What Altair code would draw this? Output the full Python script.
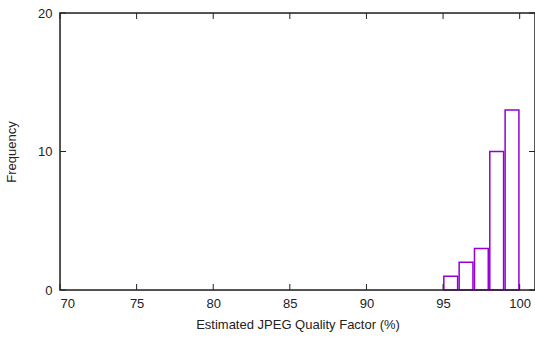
import altair as alt
import pandas as pd

bin_start = [95, 96, 97, 98, 99]
counts = [1, 2, 3, 10, 13]
x_ticks = [70, 75, 80, 85, 90, 95, 100]
y_ticks = [0, 10, 20]

W, H = 475, 277
FONT = "Liberation Sans"
PURPLE = "#9400D3"

bars_df = pd.DataFrame({"start": bin_start, "count": counts})
xt_df = pd.DataFrame({"x": x_ticks})
yt_df = pd.DataFrame({"y": y_ticks})

xs = alt.Scale(domain=[70, 101], nice=False, zero=False)
ys = alt.Scale(domain=[0, 20], nice=False)

bars = alt.Chart(bars_df).transform_calculate(
    x0="datum.start + 0.05", x1="datum.start + 0.95"
).mark_rect(fill="white", stroke=PURPLE, strokeWidth=1.5).encode(
    x=alt.X("x0:Q", scale=xs, axis=alt.Axis(
        values=x_ticks, title="Estimated JPEG Quality Factor (%)", ticks=False,
        domain=False, grid=False, labelPadding=7, labelFont=FONT, labelFontSize=13,
        labelColor="#222", titleFont=FONT, titleFontSize=13, titleFontWeight="normal",
        titleColor="#222", titlePadding=8)),
    x2="x1:Q",
    y=alt.Y("count:Q", scale=ys, axis=alt.Axis(
        values=y_ticks, title="Frequency", ticks=False, domain=False, grid=False,
        labelPadding=8, labelFont=FONT, labelFontSize=13, labelColor="#222",
        titleFont=FONT, titleFontSize=13, titleFontWeight="normal",
        titleColor="#222", titlePadding=19)),
    y2=alt.datum(0),
)

frame = alt.Chart(pd.DataFrame({"a": [0]})).mark_rect(
    fill=None, stroke="#222", strokeWidth=1.5
).encode(x=alt.value(0), x2=alt.value(W), y=alt.value(0), y2=alt.value(H))

xtick_bot = alt.Chart(xt_df).mark_rule(color="#222", strokeWidth=1).encode(
    x=alt.X("x:Q", scale=xs), y=alt.value(H), y2=alt.value(H - 6))
xtick_top = alt.Chart(xt_df).mark_rule(color="#222", strokeWidth=1).encode(
    x=alt.X("x:Q", scale=xs), y=alt.value(0), y2=alt.value(6))
ytick_l = alt.Chart(yt_df).mark_rule(color="#222", strokeWidth=1).encode(
    y=alt.Y("y:Q", scale=ys), x=alt.value(0), x2=alt.value(6))
ytick_r = alt.Chart(yt_df).mark_rule(color="#222", strokeWidth=1).encode(
    y=alt.Y("y:Q", scale=ys), x=alt.value(W), x2=alt.value(W - 6))

chart = alt.layer(bars, frame, xtick_bot, xtick_top, ytick_l, ytick_r).properties(
    width=W, height=H,
    autosize=alt.AutoSizeParams(type="none"),
    padding={"left": 60, "top": 13, "right": 0, "bottom": 47},
).configure_view(strokeWidth=0).configure(background="white")

chart.save("out.html", embed_options={"renderer": "svg", "actions": False})
